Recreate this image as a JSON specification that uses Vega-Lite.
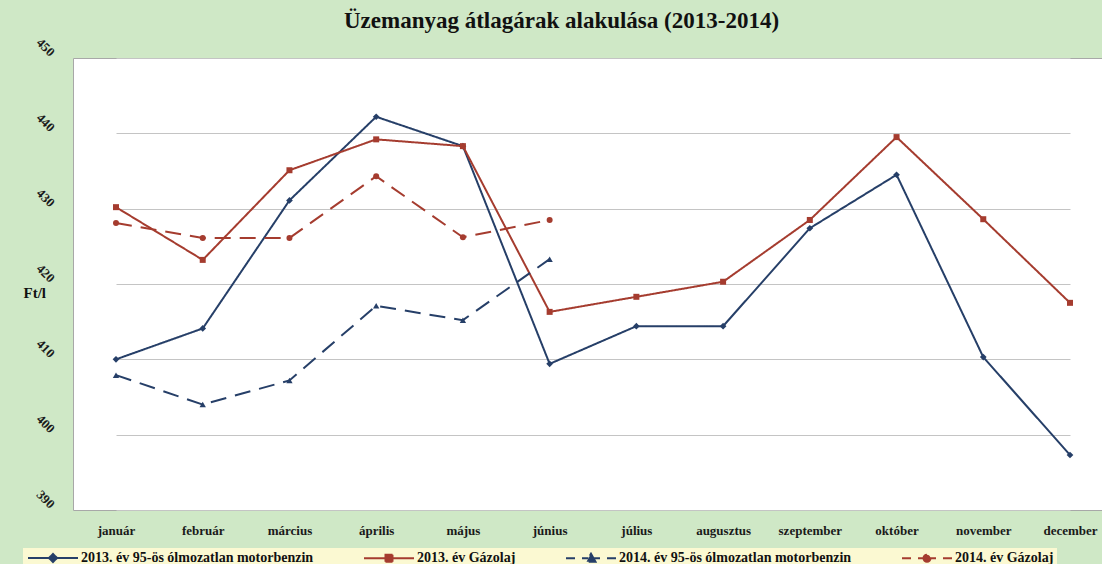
{
  "$schema": "https://vega.github.io/schema/vega-lite/v6.json",
  "autosize": "none",
  "width": 1029,
  "height": 452,
  "padding": {"left": 73, "top": 58, "right": 0, "bottom": 54},
  "background": "#cfe8c6",
  "config": {
    "view": {"fill": "#ffffff", "stroke": "#a8a8a8", "strokeWidth": 1},
    "font": "Liberation Serif"
  },
  "title": {
    "text": "Üzemanyag átlagárak alakulása (2013-2014)",
    "font": "Liberation Serif",
    "fontSize": 23,
    "fontWeight": "bold",
    "color": "#111111",
    "anchor": "middle",
    "dx": -26,
    "offset": 3
  },
  "data": {
    "values": [
      {"honap": "január", "sorozat": "2013. év 95-ös ólmozatlan motorbenzin", "ar": 410.0},
      {"honap": "február", "sorozat": "2013. év 95-ös ólmozatlan motorbenzin", "ar": 414.1},
      {"honap": "március", "sorozat": "2013. év 95-ös ólmozatlan motorbenzin", "ar": 431.1},
      {"honap": "április", "sorozat": "2013. év 95-ös ólmozatlan motorbenzin", "ar": 442.2},
      {"honap": "május", "sorozat": "2013. év 95-ös ólmozatlan motorbenzin", "ar": 438.3},
      {"honap": "június", "sorozat": "2013. év 95-ös ólmozatlan motorbenzin", "ar": 409.4},
      {"honap": "július", "sorozat": "2013. év 95-ös ólmozatlan motorbenzin", "ar": 414.4},
      {"honap": "augusztus", "sorozat": "2013. év 95-ös ólmozatlan motorbenzin", "ar": 414.4},
      {"honap": "szeptember", "sorozat": "2013. év 95-ös ólmozatlan motorbenzin", "ar": 427.4},
      {"honap": "október", "sorozat": "2013. év 95-ös ólmozatlan motorbenzin", "ar": 434.5},
      {"honap": "november", "sorozat": "2013. év 95-ös ólmozatlan motorbenzin", "ar": 410.3},
      {"honap": "december", "sorozat": "2013. év 95-ös ólmozatlan motorbenzin", "ar": 397.3},
      {"honap": "január", "sorozat": "2013. év Gázolaj", "ar": 430.2},
      {"honap": "február", "sorozat": "2013. év Gázolaj", "ar": 423.2},
      {"honap": "március", "sorozat": "2013. év Gázolaj", "ar": 435.1},
      {"honap": "április", "sorozat": "2013. év Gázolaj", "ar": 439.2},
      {"honap": "május", "sorozat": "2013. év Gázolaj", "ar": 438.3},
      {"honap": "június", "sorozat": "2013. év Gázolaj", "ar": 416.3},
      {"honap": "július", "sorozat": "2013. év Gázolaj", "ar": 418.3},
      {"honap": "augusztus", "sorozat": "2013. év Gázolaj", "ar": 420.3},
      {"honap": "szeptember", "sorozat": "2013. év Gázolaj", "ar": 428.5},
      {"honap": "október", "sorozat": "2013. év Gázolaj", "ar": 439.5},
      {"honap": "november", "sorozat": "2013. év Gázolaj", "ar": 428.6},
      {"honap": "december", "sorozat": "2013. év Gázolaj", "ar": 417.5},
      {"honap": "január", "sorozat": "2014. év 95-ös ólmozatlan motorbenzin", "ar": 407.9},
      {"honap": "február", "sorozat": "2014. év 95-ös ólmozatlan motorbenzin", "ar": 404.0},
      {"honap": "március", "sorozat": "2014. év 95-ös ólmozatlan motorbenzin", "ar": 407.2},
      {"honap": "április", "sorozat": "2014. év 95-ös ólmozatlan motorbenzin", "ar": 417.1},
      {"honap": "május", "sorozat": "2014. év 95-ös ólmozatlan motorbenzin", "ar": 415.2},
      {"honap": "június", "sorozat": "2014. év 95-ös ólmozatlan motorbenzin", "ar": 423.3},
      {"honap": "január", "sorozat": "2014. év Gázolaj", "ar": 428.1},
      {"honap": "február", "sorozat": "2014. év Gázolaj", "ar": 426.1},
      {"honap": "március", "sorozat": "2014. év Gázolaj", "ar": 426.1},
      {"honap": "április", "sorozat": "2014. év Gázolaj", "ar": 434.3},
      {"honap": "május", "sorozat": "2014. év Gázolaj", "ar": 426.2},
      {"honap": "június", "sorozat": "2014. év Gázolaj", "ar": 428.5}
    ]
  },
  "encoding": {
    "x": {
      "field": "honap",
      "type": "nominal",
      "sort": ["január", "február", "március", "április", "május", "június", "július", "augusztus", "szeptember", "október", "november", "december"],
      "scale": {"type": "point", "range": [43, 997], "padding": 0},
      "axis": {
        "title": null,
        "domain": false,
        "ticks": false,
        "grid": false,
        "labelAngle": 0,
        "labelFont": "Liberation Serif",
        "labelFontSize": 13,
        "labelFontWeight": "bold",
        "labelColor": "#1a1a1a",
        "labelPadding": 14
      }
    },
    "y": {
      "field": "ar",
      "type": "quantitative",
      "scale": {"domain": [390, 450], "nice": false, "zero": false},
      "axis": {
        "values": [390, 400, 410, 420, 430, 440, 450],
        "domain": false,
        "ticks": false,
        "grid": true,
        "gridColor": "#c4c4c4",
        "gridWidth": 1,
        "labelAngle": 45,
        "labelAlign": "center",
        "labelBaseline": "middle",
        "labelFont": "Liberation Serif",
        "labelFontSize": 13,
        "labelFontWeight": "bold",
        "labelColor": "#1a1a1a",
        "labelPadding": 28,
        "labelOffset": -11,
        "title": "Ft/l",
        "titleAngle": 0,
        "titleAlign": "left",
        "titleBaseline": "middle",
        "titleX": -50,
        "titleY": 234,
        "titleFont": "Liberation Serif",
        "titleFontSize": 15,
        "titleFontWeight": "bold",
        "titleColor": "#111111"
      }
    },
    "color": {
      "field": "sorozat",
      "type": "nominal",
      "scale": {
        "domain": ["2013. év 95-ös ólmozatlan motorbenzin", "2013. év Gázolaj", "2014. év 95-ös ólmozatlan motorbenzin", "2014. év Gázolaj"],
        "range": ["#263f68", "#a53c2f", "#263f68", "#a53c2f"]
      },
      "legend": {
        "title": null,
        "orient": "none",
        "direction": "horizontal",
        "legendX": -50,
        "legendY": 490,
        "padding": 3,
        "fillColor": "#fbf9d2",
        "columnPadding": 46,
        "labelFont": "Liberation Serif",
        "labelFontSize": 14,
        "labelFontWeight": "bold",
        "labelColor": "#111111",
        "labelLimit": 500,
        "symbolSize": 100,
        "symbolOffset": 20,
        "labelOffset": 21,
        "symbolStrokeWidth": 2,
        "symbolOpacity": 1
      }
    }
  },
  "layer": [
    {
      "mark": {"type": "line", "strokeWidth": 2},
      "encoding": {
        "strokeDash": {
          "field": "sorozat",
          "type": "nominal",
          "scale": {
            "domain": ["2013. év 95-ös ólmozatlan motorbenzin", "2013. év Gázolaj", "2014. év 95-ös ólmozatlan motorbenzin", "2014. év Gázolaj"],
            "range": [[1, 0], [1, 0], [16, 9], [16, 9]]
          },
          "legend": null
        }
      }
    },
    {
      "transform": [{"filter": "datum.sorozat === '2013. év 95-ös ólmozatlan motorbenzin'"}],
      "mark": {"type": "point", "filled": true, "opacity": 1, "size": 45, "shape": "diamond"}
    },
    {
      "transform": [{"filter": "datum.sorozat === '2013. év Gázolaj'"}],
      "mark": {"type": "point", "filled": true, "opacity": 1, "size": 36, "shape": "square"}
    },
    {
      "transform": [{"filter": "datum.sorozat === '2014. év 95-ös ólmozatlan motorbenzin'"}],
      "mark": {"type": "point", "filled": true, "opacity": 1, "size": 40, "shape": "triangle-up"}
    },
    {
      "transform": [{"filter": "datum.sorozat === '2014. év Gázolaj'"}],
      "mark": {"type": "point", "filled": true, "opacity": 1, "size": 36, "shape": "circle"}
    },
    {
      "transform": [{"filter": "datum.ar < 0"}],
      "mark": {"type": "point", "filled": true, "opacity": 1},
      "encoding": {
        "shape": {
          "field": "sorozat",
          "type": "nominal",
          "scale": {
            "domain": ["2013. év 95-ös ólmozatlan motorbenzin", "2013. év Gázolaj", "2014. év 95-ös ólmozatlan motorbenzin", "2014. év Gázolaj"],
            "range": [
              "M-5,0H5M0,-0.8L0.8,0L0,0.8L-0.8,0Z",
              "M-5,0H5M-0.7,-0.7H0.7V0.7H-0.7Z",
              "M-5,0H-3.2M-1.8,0H-0.5M0.5,0H1.8M3.2,0H5M0,-0.9L0.9,0.7H-0.9Z",
              "M-5,0H-3.2M-1.8,0H-0.6M0.6,0H1.8M3.2,0H5M0.7,0A0.7,0.7,0,1,1,-0.7,0A0.7,0.7,0,1,1,0.7,0Z"
            ]
          },
          "legend": {
            "title": null,
            "orient": "none",
            "direction": "horizontal",
            "legendX": -50,
            "legendY": 490,
            "padding": 3,
            "fillColor": "#fbf9d2",
            "columnPadding": 46,
            "labelFont": "Liberation Serif",
            "labelFontSize": 14,
            "labelFontWeight": "bold",
            "labelColor": "#111111",
            "labelLimit": 500,
            "symbolSize": 100,
            "symbolOffset": 20,
            "labelOffset": 21,
            "symbolStrokeWidth": 2,
            "symbolOpacity": 1
          }
        }
      }
    }
  ]
}
